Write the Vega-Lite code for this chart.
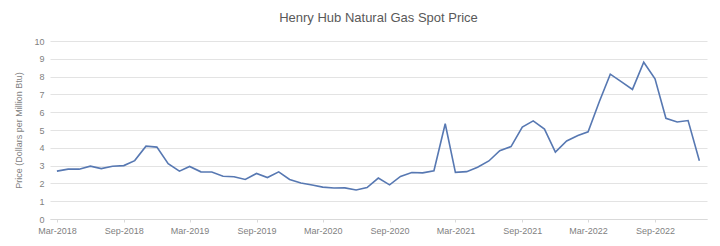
{
  "$schema": "https://vega.github.io/schema/vega-lite/v6.json",
  "width": 657,
  "height": 178,
  "autosize": "none",
  "padding": {"left": 50, "top": 41, "right": 13, "bottom": 27},
  "background": "white",
  "title": {
    "text": "Henry Hub Natural Gas Spot Price",
    "font": "Liberation Sans",
    "fontSize": 13,
    "fontWeight": "normal",
    "color": "#595959",
    "offset": 12,
    "anchor": "middle"
  },
  "config": {
    "view": {"stroke": null},
    "axis": {"labelFont": "Liberation Sans", "titleFont": "Liberation Sans"}
  },
  "data": {
    "values": [
      {"month": "2018-03-01", "price": 2.69},
      {"month": "2018-04-01", "price": 2.80},
      {"month": "2018-05-01", "price": 2.80},
      {"month": "2018-06-01", "price": 2.97},
      {"month": "2018-07-01", "price": 2.83},
      {"month": "2018-08-01", "price": 2.96},
      {"month": "2018-09-01", "price": 3.00},
      {"month": "2018-10-01", "price": 3.28},
      {"month": "2018-11-01", "price": 4.09},
      {"month": "2018-12-01", "price": 4.04},
      {"month": "2019-01-01", "price": 3.11},
      {"month": "2019-02-01", "price": 2.69},
      {"month": "2019-03-01", "price": 2.95},
      {"month": "2019-04-01", "price": 2.65},
      {"month": "2019-05-01", "price": 2.64},
      {"month": "2019-06-01", "price": 2.40},
      {"month": "2019-07-01", "price": 2.37},
      {"month": "2019-08-01", "price": 2.22},
      {"month": "2019-09-01", "price": 2.56},
      {"month": "2019-10-01", "price": 2.33},
      {"month": "2019-11-01", "price": 2.65},
      {"month": "2019-12-01", "price": 2.22},
      {"month": "2020-01-01", "price": 2.02},
      {"month": "2020-02-01", "price": 1.91},
      {"month": "2020-03-01", "price": 1.79},
      {"month": "2020-04-01", "price": 1.74},
      {"month": "2020-05-01", "price": 1.75},
      {"month": "2020-06-01", "price": 1.63},
      {"month": "2020-07-01", "price": 1.77},
      {"month": "2020-08-01", "price": 2.30},
      {"month": "2020-09-01", "price": 1.92},
      {"month": "2020-10-01", "price": 2.39},
      {"month": "2020-11-01", "price": 2.61},
      {"month": "2020-12-01", "price": 2.59},
      {"month": "2021-01-01", "price": 2.71},
      {"month": "2021-02-01", "price": 5.35},
      {"month": "2021-03-01", "price": 2.62},
      {"month": "2021-04-01", "price": 2.66},
      {"month": "2021-05-01", "price": 2.91},
      {"month": "2021-06-01", "price": 3.26},
      {"month": "2021-07-01", "price": 3.84},
      {"month": "2021-08-01", "price": 4.07},
      {"month": "2021-09-01", "price": 5.16},
      {"month": "2021-10-01", "price": 5.51},
      {"month": "2021-11-01", "price": 5.05},
      {"month": "2021-12-01", "price": 3.76},
      {"month": "2022-01-01", "price": 4.38},
      {"month": "2022-02-01", "price": 4.69},
      {"month": "2022-03-01", "price": 4.90},
      {"month": "2022-04-01", "price": 6.60},
      {"month": "2022-05-01", "price": 8.14},
      {"month": "2022-06-01", "price": 7.70},
      {"month": "2022-07-01", "price": 7.28},
      {"month": "2022-08-01", "price": 8.81},
      {"month": "2022-09-01", "price": 7.88},
      {"month": "2022-10-01", "price": 5.66},
      {"month": "2022-11-01", "price": 5.45},
      {"month": "2022-12-01", "price": 5.53},
      {"month": "2023-01-01", "price": 3.27}
    ]
  },
  "mark": {"type": "line", "color": "#5778b2", "strokeWidth": 1.6, "interpolate": "linear"},
  "encoding": {
    "x": {
      "field": "month",
      "type": "temporal",
      "scale": {"domain": ["2018-02-10", "2023-01-22"]},
      "axis": {
        "title": null,
        "values": ["2018-03-01", "2018-09-01", "2019-03-01", "2019-09-01", "2020-03-01", "2020-09-01", "2021-03-01", "2021-09-01", "2022-03-01", "2022-09-01"],
        "format": "%b-%Y",
        "labelFontSize": 9,
        "labelColor": "#7f7f7f",
        "labelPadding": 4,
        "grid": false,
        "domainColor": "#d9d9d9",
        "tickColor": "#d9d9d9",
        "tickSize": 3,
        "labelFlush": false
      }
    },
    "y": {
      "field": "price",
      "type": "quantitative",
      "scale": {"domain": [0, 10], "nice": false},
      "axis": {
        "title": "Price (Dollars per Million Btu)",
        "titleFontSize": 9,
        "titleFontWeight": "normal",
        "titleColor": "#7f7f7f",
        "titlePadding": 10,
        "values": [0, 1, 2, 3, 4, 5, 6, 7, 8, 9, 10],
        "labelFontSize": 9,
        "labelColor": "#7f7f7f",
        "labelPadding": 6,
        "domain": false,
        "ticks": false,
        "gridColor": "#e3e3e3",
        "gridWidth": 1
      }
    }
  }
}
